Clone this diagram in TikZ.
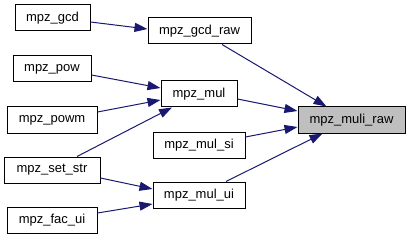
\documentclass[tikz,border=0pt]{standalone}
\usepackage{fontspec}
\setmainfont{Liberation Sans}
\usetikzlibrary{arrows.meta,calc}
\definecolor{edgeblue}{HTML}{191970}
\definecolor{focusgray}{HTML}{BFBFBF}
\begin{document}
\begin{tikzpicture}[x=1pt,y=-1pt,
  fn/.style={draw=black,line width=1pt,fill=white,inner sep=0pt,
    minimum height=26pt,font=\fontsize{13}{15}\selectfont,anchor=center},
  focus/.style={fn,fill=focusgray},
  call/.style={draw=edgeblue,line width=1pt,
    -{Triangle[length=13pt,width=9pt,fill=edgeblue]}}]
\useasboundingbox (0,0) rectangle (411,240);
% functions
\node[fn,minimum width=75pt]  (gcd)    at (52.5,18)  {mpz\_gcd};
\node[fn,minimum width=103pt] (gcdraw) at (199.5,31) {mpz\_gcd\_raw};
\node[fn,minimum width=78pt]  (pow)    at (52,69)    {mpz\_pow};
\node[fn,minimum width=76pt]  (mul)    at (199,94)   {mpz\_mul};
\node[fn,minimum width=90pt]  (powm)   at (52,120)   {mpz\_powm};
\node[focus,minimum width=107pt] (muliraw) at (351.5,120) {mpz\_muli\_raw};
\node[fn,minimum width=92pt]  (mulsi)  at (199,145)  {mpz\_mul\_si};
\node[fn,minimum width=96pt]  (setstr) at (52,170)   {mpz\_set\_str};
\node[fn,minimum width=92pt]  (mului)  at (199,195)  {mpz\_mul\_ui};
\node[fn,minimum width=90pt]  (facui)  at (52,220)   {mpz\_fac\_ui};
% calls
\draw[call] ($(gcd.east)+(0,4)$) -- ($(gcdraw.west)+(0,-2)$);
\draw[call] ($(gcdraw.south)+(22.5,0)$) -- ($(muliraw.north)+(-25,0)$);
\draw[call] ($(pow.east)+(0,6)$) -- ($(mul.west)+(0,-6)$);
\draw[call] ($(powm.east)+(0,-8)$) -- ($(mul.west)+(0,6)$);
\draw[call] ($(setstr.north)+(25,0)$) -- ($(mul.south)+(-27,0)$);
\draw[call] ($(mul.east)+(0,5)$) -- ($(muliraw.west)+(0,-9)$);
\draw[call] ($(mulsi.east)+(0,-8)$) -- ($(muliraw.west)+(0,7)$);
\draw[call] ($(mului.north)+(27,0)$) -- ($(muliraw.south)+(-29,0)$);
\draw[call] ($(setstr.east)+(0,8)$) -- ($(mului.west)+(0,-6)$);
\draw[call] ($(facui.east)+(0,-7)$) -- ($(mului.west)+(0,9)$);
\end{tikzpicture}
\end{document}
